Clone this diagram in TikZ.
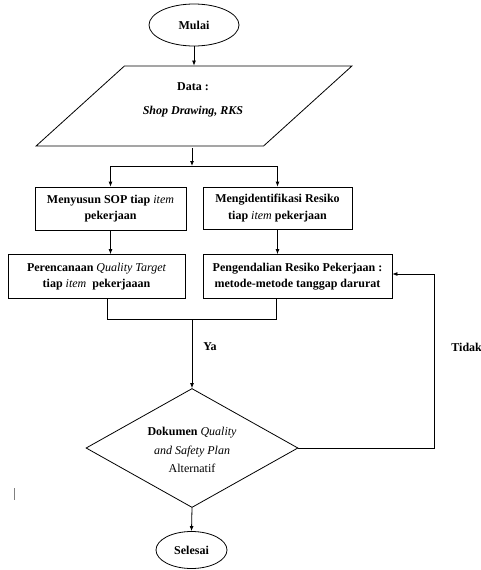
\documentclass[tikz,border=0pt]{standalone}
\usepackage{fontspec}
\setmainfont{Liberation Serif}
\usetikzlibrary{shapes.geometric,arrows.meta}
\newcommand\itm[1]{{\mdseries\itshape #1}}
\begin{document}
\begin{tikzpicture}[x=1pt,y=-1pt,
  line width=0.8pt,
  font=\fontsize{12}{16.5}\selectfont\bfseries,
  arr/.style={-{Latex[length=5pt,width=4pt]}},
  terminal/.style={draw,ellipse,inner sep=0pt},
  procbox/.style={draw,rectangle,inner sep=0pt,align=center},
  iobox/.style={draw,trapezium,trapezium left angle=55,trapezium right angle=125,
    trapezium stretches=true,inner sep=0pt},
  decision/.style={draw,diamond,aspect=2,inner sep=0pt},
  txt/.style={inner sep=0pt,align=center},
  lbl/.style={anchor=west,inner sep=0pt}]
\useasboundingbox (0,0) rectangle (481,570);

% shapes
\node[terminal,minimum width=90pt,minimum height=42pt] (start) at (194,25) {Mulai};
\node[iobox,minimum width=316pt,minimum height=80pt] (data) at (194,106) {\phantom{X}};
\node[procbox,minimum width=151pt,minimum height=43pt] (sop) at (110.5,208.5)
  {Menyusun SOP tiap \itm{item}\\ pekerjaan};
\node[procbox,minimum width=149pt,minimum height=42pt] (risk) at (277.5,208)
  {Mengidentifikasi Resiko\\ tiap \itm{item} pekerjaan};
\node[procbox,minimum width=177pt,minimum height=44pt] (target) at (96.5,276.5)
  {Perencanaan \itm{Quality Target}\\ tiap \itm{item}\ \ pekerjaaan};
\node[procbox,minimum width=189pt,minimum height=44pt] (ctrl) at (297.5,276.5)
  {Pengendalian Resiko Pekerjaan :\\ metode-metode tanggap darurat};
\node[decision,minimum width=212pt,minimum height=119pt] (doc) at (192,448) {\phantom{X}};
\node[terminal,minimum width=71pt,minimum height=37pt] (end) at (191.5,550) {Selesai};

% texts inside the parallelogram and the diamond
\node[txt] (data-t) at (193,100) {Data :\\[8pt] \itshape Shop Drawing, RKS};
\node[txt] (doc-t) at (192,450) {Dokumen \itm{Quality}\\[2pt] \itm{and Safety Plan}\\[2pt] \mdseries Alternatif};

% helper points
\coordinate (split) at (192,166);
\coordinate (mL) at (107,319);
\coordinate (mR) at (276,319);
\coordinate (merge) at (192,319);
\coordinate (fbx) at (434,274);

% connectors
\draw[arr] (start) -- (start |- data.north);
\draw[arr] (data.south -| split) ++(0,2) -- (split);
\draw (split -| sop) -- (split -| risk);
\draw[arr] (split -| sop) -- (sop.north);
\draw[arr] (split -| risk) -- (risk.north);
\draw[arr] (sop.south) -- (sop.south |- target.north);
\draw[arr] (risk.south) -- (risk.south |- ctrl.north);
\draw (target.south -| mL) -- (mL) -- (mR) -- (ctrl.south -| mR);
\draw[arr] (merge) -- (doc.north);
\draw[arr] (doc.east) -| (fbx) -- (fbx -| ctrl.east);
\draw[arr] (doc.south) -- (end.north);

% labels
\node[lbl] (ya) at (203,347) {Ya};
\node[lbl] (tidak) at (451,347) {Tidak};

% stray cursor mark
\draw[gray,line width=0.6pt] (14,488) -- (14,500);
\end{tikzpicture}
\end{document}
